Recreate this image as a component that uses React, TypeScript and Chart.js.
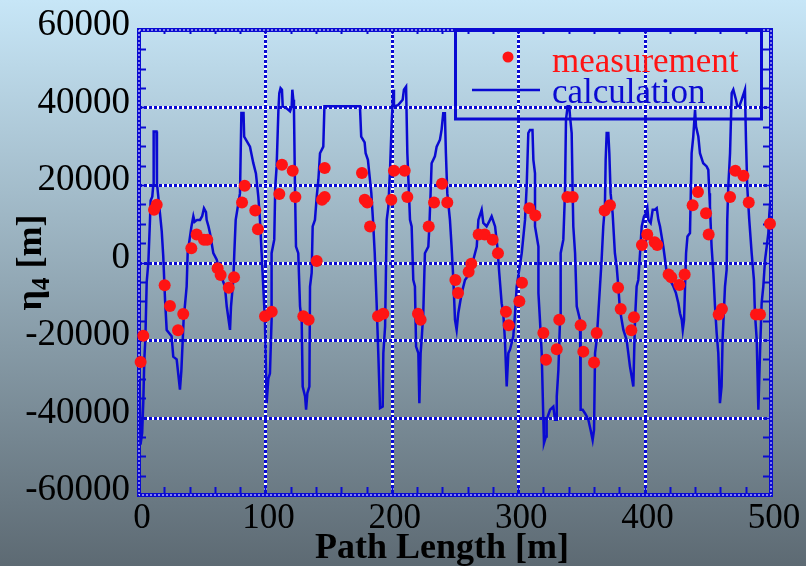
import React, { useEffect, useRef } from 'react';
import { Chart, registerables } from 'chart.js';

Chart.register(...registerables);

// calculated eta_4 along the path (path length [m], eta_4 [m])
const calcX = [
  0.5, 1.2, 2.5, 3.4, 4.2, 5, 6.1, 7.4, 8.7, 9.2, 10.5, 11.3, 11.6, 13.8, 14.2, 17.1, 18, 19.2, 20.6, 21.9,
  25.8, 27.1, 29.8, 32.4, 33.5, 35.3, 37.7, 38.5, 41.5, 43, 44, 46, 48.3, 50, 51.4, 53, 53.5, 55, 56.2, 58.8,
  61.5, 64.1, 68, 69.4, 72, 72.8, 74.6, 75.4, 76.5, 79.9, 81, 82.7, 83.2, 87.8, 90.4, 92.5, 94.4, 95.7, 97, 98.3,
  99.6, 101, 102.3, 103.6, 104.9, 104.9, 107, 107.8, 108.9, 110.3, 111, 112, 113.1, 113.7, 116.8, 119.5, 120.8, 121.3, 122.1, 122.6,
  123.4, 124.2, 126, 127.4, 128.7, 129.5, 131.4, 132.2, 133.2, 134.8, 135.3, 136.6, 137.4, 139.2, 140.6, 141.9, 143.2, 145.8, 146.7, 174.8,
  175.8, 178.5, 179.3, 181.1, 183.8, 185.1, 186.5, 188, 189.3, 190.7, 192.8, 193.3, 194.7, 196, 197.3, 198.6, 200, 201.2, 201.7, 205,
  208.6, 209.6, 211.3, 212.3, 214.4, 215.7, 217, 218.3, 219.2, 221, 221.8, 222.8, 223.6, 224.9, 226.2, 228.9, 229.7, 230.7, 231.5, 234.1,
  235.5, 238.1, 239.4, 240.7, 242, 242.8, 243.9, 246, 247.3, 248.7, 250, 251.3, 252.6, 255.3, 257.9, 261.9, 264.5, 267.2, 268.5, 271.1,
  272.4, 275, 277.7, 279, 281.7, 283.5, 285, 286.9, 288.2, 289.5, 290.9, 292.2, 293.5, 296.1, 297.5, 298.8, 302.8, 305.4, 306.7, 308,
  309.3, 311.3, 312, 313.3, 313.3, 316, 316, 317.2, 318.6, 319.9, 320.4, 322, 322.5, 325.2, 327.8, 329.1, 330, 330.5, 331.8, 333.1,
  333.6, 335.7, 337, 337.8, 339.1, 340.4, 341, 342.3, 343.1, 343.6, 345, 346.3, 348.9, 349.4, 351, 352.8, 354.2, 355.5, 357.3, 358.9,
  360, 360.8, 362.1, 363.4, 364.7, 366, 367.3, 368.6, 369.2, 370, 371.3, 372.1, 373.1, 374.7, 376.5, 377.9, 379.2, 380.5, 383.2, 385.8,
  387.1, 388.4, 391.1, 392.4, 393.7, 395, 396.4, 397.7, 399.5, 401.1, 402.2, 403, 404.8, 406.4, 408.2, 409.6, 410.9, 412.2, 414.8, 416.2,
  417.5, 420.1, 422.8, 424.8, 426.7, 428, 429.4, 430.2, 431.2, 432, 432.8, 433.9, 435.9, 437.2, 438.5, 439.9, 440.7, 442.5, 443.8, 446.4,
  449.1, 450.4, 451.2, 451.7, 453, 454.4, 455.7, 457, 458.3, 459.6, 460.9, 461.7, 463.6, 464.9, 465.4, 466.2, 467.6, 468.9, 470.2, 472.3,
  473.3, 474.9, 476.8, 479.4, 480.2, 481.2, 482.8, 484.7, 486.5, 487.3, 488.7, 490, 491.3, 492.6, 493.9, 495.3, 496.6, 497.9, 498.7, 499.5,
];
const calcY = [
  -30000, -47000, -44000, -36000, -25000, -20000, -5000, 0, 11000, 16000, 17000, 20000, 33800, 33800, 20500, 11000, 8000, 1500, -9600, -17400,
  -19000, -24300, -25000, -32800, -28000, -14800, -6200, 2400, 9300, 11900, 10500, 11000, 11000, 12000, 14000, 13000, 11000, 9300, 7500, 2400,
  700, -2700, -6200, -11300, -17400, -11300, -4500, 2400, 11000, 17900, 38600, 38600, 32500, 29900, 25700, 23000, 17000, 11000, 2400, -6200,
  -14800, -36300, -30000, -28600, -14800, 2400, 5900, 19600, 24800, 39400, 43700, 45000, 44600, 40300, 39800, 39000, 40300, 44600, 42000, 39400,
  19600, 4100, 2400, -11300, -14800, -32000, -34600, -38000, -33700, -32000, -6200, -2700, 9300, 11000, 17000, 21300, 28200, 29900, 40300, 40300,
  32500, 31000, 28200, 26500, 17900, 11000, 2400, -10500, -23400, -37600, -37200, -23400, -16500, 11000, 14500, 23900, 36800, 44600, 40300, 40600,
  42000, 44600, 45400, 28200, 11000, 9300, -4500, -6200, -21700, -23400, -36300, -23400, -19900, -13100, 2400, 4100, 9300, 17900, 25600, 27400,
  29900, 31700, 34300, 38500, 38500, 28200, 17900, 11000, 4100, -4500, -14800, -17400, -13100, -7900, -4500, -2700, 700, 4100, 11000, 13600,
  10200, 9300, 11000, 11900, 9300, 4100, -2700, -10500, -13100, -20000, -32000, -23400, -22500, -19100, -13100, -6200, 2400, 11000, 19600, 33400,
  34200, 34200, 26500, 23000, 9300, 4100, -7900, -14800, -23400, -40600, -46600, -44900, -40600, -38000, -37200, -40600, -40600, -34600, -27700, -14800,
  2400, 5900, 17900, 36800, 40300, 40300, 37700, 33400, 17900, 9300, 2400, -11300, -14800, -38000, -38000, -38900, -39700, -40600, -43200, -45800,
  -43200, -23400, -20000, -13100, -6200, 700, 9300, 14500, 26500, 33400, 33400, 28200, 17900, 12700, 2400, -1000, -6200, -12200, -17400, -20000,
  -23400, -26800, -32000, -14800, -6200, -4500, 2400, 9300, 11900, 12700, 14000, 11000, 10200, 13600, 13600, 14000, 11000, 9300, 4100, 700,
  -2700, -4500, -6200, -7900, -10500, -13100, -14800, -17400, -14800, -6200, 2400, 6700, 7600, 28200, 32500, 39400, 35100, 32500, 28200, 25600,
  24800, 23900, 17900, 14500, 4100, -2700, -11300, -18200, -23400, -36300, -32000, -19900, -6200, -1900, 11000, 19600, 28200, 43700, 44600, 42000,
  40300, 40300, 42000, 44600, 31700, 19600, 11000, 2400, -4500, -13100, -19900, -38000, -23400, -10500, -6200, 700, 4100, 7600, 12700, 16000,
];

// measured eta_4
const measX = [
  1.3, 3.4, 11.9, 14, 20.3, 24.5, 30.9, 35, 41.4, 45.6, 51.4, 54, 62.2, 64.6, 71, 75.2, 81.5, 83.6, 92, 94.1,
  99.7, 105, 111, 113.1, 121.6, 123.7, 130, 134.2, 140.6, 144.8, 146.9, 146.9, 176.4, 178.6, 180.6, 182.8, 189.1, 193.3, 199.6, 201.7,
  210.2, 212.3, 220.7, 222.8, 229.2, 233.4, 239.7, 243.9, 250.3, 252.4, 260.8, 262.9, 268.7, 273.5, 279.8, 284, 290.3, 292.5, 300.9, 303,
  308.8, 313.5, 319.9, 322, 330.5, 332.5, 338.9, 343.1, 349.4, 351.5, 360, 362.1, 368.4, 372.6, 379, 381.1, 389.5, 391.6, 397.9, 402.1,
  408, 410, 419, 421.1, 427.5, 431.7, 438, 442.2, 448.6, 450.7, 458.6, 461.2, 467.6, 471.8, 478.2, 482.4, 488.1, 491.3, 499.2,
];
const measY = [
  -25700, -18900, 13600, 14900, -5900, -11200, -17500, -13300, 3700, 7200, 5900, 5900, -1500, -3200, -6500, -3800, 15500, 19800, 13400, 8600,
  -13900, -12700, 17700, 25200, 23700, 16900, -13900, -14800, 400, 16200, 16900, 24400, 23100, 16200, 15500, 9300, -13900, -13200, 16200, 23700,
  23700, 16900, -13200, -14800, 9300, 15500, 20300, 15500, -4500, -7900, -2400, -300, 7200, 7200, 5900, 2400, -12700, -16200, -10000, -5200,
  14000, 12100, -18200, -25100, -22400, -14800, 16900, 16900, -16200, -23000, -25800, -18200, 13400, 14800, -6500, -12000, -17500, -14100, 4500, 7200,
  5200, 4500, -3100, -3800, -5800, -3100, 14800, 18200, 12700, 7200, -13400, -12000, 16900, 23700, 22400, 15500, -13400, -13400, 10000,
];

const xTickValues = [0, 100, 200, 300, 400, 500];
const yTickValues = [-60000, -40000, -20000, 0, 20000, 40000, 60000];
const xGridValues = [100, 200, 300, 400];
const yGridValues = [-40000, -20000, 0, 20000, 40000];
const legendLabels = ['measurement', 'calculation'];

const BLUE = '#0a0ad2';
const RED = '#ff1414';
const SERIF = "'Liberation Serif', 'Times New Roman', serif";

const framePlugin = {
  id: 'frame',
  beforeDatasetsDraw(chart: any) {
    const { ctx, chartArea: a, scales } = chart;
    const xs = scales.x;
    const ys = scales.y;
    ctx.save();

    const seg = (x1: number, y1: number, x2: number, y2: number) => {
      ctx.beginPath();
      ctx.moveTo(x1, y1);
      ctx.lineTo(x2, y2);
      ctx.stroke();
    };
    const dotted = (x1: number, y1: number, x2: number, y2: number) => {
      ctx.setLineDash([]);
      ctx.strokeStyle = '#ffffff';
      ctx.lineWidth = 3;
      seg(x1, y1, x2, y2);
      ctx.setLineDash([3, 2]);
      ctx.strokeStyle = BLUE;
      ctx.lineWidth = 3;
      seg(x1, y1, x2, y2);
      ctx.setLineDash([]);
    };

    // grid
    xGridValues.forEach((v) => {
      const px = Math.round(xs.getPixelForValue(v)) + 0.5;
      dotted(px, a.top, px, a.bottom);
    });
    yGridValues.forEach((v) => {
      const py = Math.round(ys.getPixelForValue(v)) + 0.5;
      dotted(a.left, py, a.right, py);
    });

    // minor ticks, pointing inwards
    ctx.strokeStyle = BLUE;
    ctx.lineWidth = 2;
    for (let v = 0; v <= 500; v += 20) {
      const px = Math.round(xs.getPixelForValue(v)) + 0.5;
      seg(px, a.bottom, px, a.bottom - 8);
      seg(px, a.top, px, a.top + 4);
    }
    for (let v = -60000; v <= 60000; v += 5000) {
      const py = Math.round(ys.getPixelForValue(v)) + 0.5;
      seg(a.left, py, a.left + 7, py);
      seg(a.right, py, a.right - 8, py);
    }

    // frame
    ctx.strokeStyle = BLUE;
    ctx.lineWidth = 4;
    ctx.strokeRect(a.left, a.top, a.right - a.left, a.bottom - a.top);
    ctx.strokeStyle = '#ffffff';
    ctx.lineWidth = 1;
    ctx.setLineDash([2, 2]);
    ctx.strokeRect(a.left, a.top, a.right - a.left, a.bottom - a.top);
    ctx.setLineDash([]);

    // tick labels
    ctx.fillStyle = '#000000';
    ctx.font = `37px ${SERIF}`;
    ctx.textAlign = 'right';
    ctx.textBaseline = 'alphabetic';
    yTickValues.forEach((v) => {
      ctx.fillText(String(v), a.left - 9, ys.getPixelForValue(v) + 5);
    });
    ctx.font = `35px ${SERIF}`;
    ctx.textAlign = 'center';
    xTickValues.forEach((v) => {
      ctx.fillText(String(v), xs.getPixelForValue(v) + 3, a.bottom + 33);
    });

    // axis titles
    ctx.font = `bold 36px ${SERIF}`;
    ctx.textAlign = 'center';
    ctx.fillText('Path Length [m]', (a.left + a.right) / 2 - 13, a.bottom + 63);

    ctx.save();
    ctx.translate(41, (a.top + a.bottom) / 2);
    ctx.rotate(-Math.PI / 2);
    ctx.textAlign = 'left';
    const big = `bold 36px ${SERIF}`;
    const small = `bold 25px ${SERIF}`;
    ctx.font = big;
    const wEta = ctx.measureText('\u03b7').width;
    const wRest = ctx.measureText(' [m]').width;
    ctx.font = small;
    const wSub = ctx.measureText('4').width;
    let cx = -(wEta + wSub + wRest) / 2;
    ctx.font = big;
    ctx.fillText('\u03b7', cx, 0);
    cx += wEta;
    ctx.font = small;
    ctx.fillText('4', cx, 8);
    cx += wSub;
    ctx.font = big;
    ctx.fillText(' [m]', cx, 0);
    ctx.restore();

    ctx.restore();
  },
  afterDatasetsDraw(chart: any) {
    const { ctx } = chart;
    ctx.save();
    // legend box
    ctx.strokeStyle = BLUE;
    ctx.lineWidth = 3;
    ctx.strokeRect(455.5, 30, 306, 89);
    ctx.fillStyle = RED;
    ctx.beginPath();
    ctx.arc(508, 57, 5.5, 0, Math.PI * 2);
    ctx.fill();
    ctx.strokeStyle = BLUE;
    ctx.lineWidth = 2.5;
    ctx.beginPath();
    ctx.moveTo(472, 90);
    ctx.lineTo(540, 90);
    ctx.stroke();
    ctx.font = `35px ${SERIF}`;
    ctx.textAlign = 'left';
    ctx.textBaseline = 'alphabetic';
    ctx.fillStyle = RED;
    ctx.fillText(legendLabels[0], 552, 72);
    ctx.fillStyle = BLUE;
    ctx.fillText(legendLabels[1], 552, 103);
    ctx.restore();
  },
};

export default function App() {
  const canvasRef = useRef<HTMLCanvasElement | null>(null);

  useEffect(() => {
    const canvas = canvasRef.current;
    if (!canvas) return;
    const chart = new Chart(canvas, {
      type: 'scatter',
      data: {
        datasets: [
          {
            label: legendLabels[0],
            data: measX.map((x, i) => ({ x, y: measY[i] })),
            pointRadius: 6,
            pointBackgroundColor: RED,
            pointBorderWidth: 0,
            backgroundColor: RED,
            borderColor: RED,
            clip: false,
            order: 0,
          },
          {
            label: legendLabels[1],
            data: calcX.map((x, i) => ({ x, y: calcY[i] })),
            showLine: true,
            pointRadius: 0,
            borderColor: BLUE,
            borderWidth: 2.5,
            tension: 0,
            order: 1,
          },
        ],
      },
      options: {
        responsive: false,
        animation: false,
        devicePixelRatio: 1,
        layout: { padding: { left: 139, right: 35, top: 30, bottom: 71 } },
        plugins: { legend: { display: false }, tooltip: { enabled: false } },
        scales: {
          x: { type: 'linear', min: 0, max: 500, display: false },
          y: { type: 'linear', min: -60000, max: 60000, display: false },
        },
      },
      plugins: [framePlugin],
    });
    return () => chart.destroy();
  }, []);

  return (
    <div
      style={{
        position: 'fixed',
        left: 0,
        top: 0,
        width: 806,
        height: 566,
        background: 'linear-gradient(#c7e6f7, #5d6a73)',
      }}
    >
      <canvas ref={canvasRef} width={806} height={566} style={{ display: 'block' }} />
    </div>
  );
}
